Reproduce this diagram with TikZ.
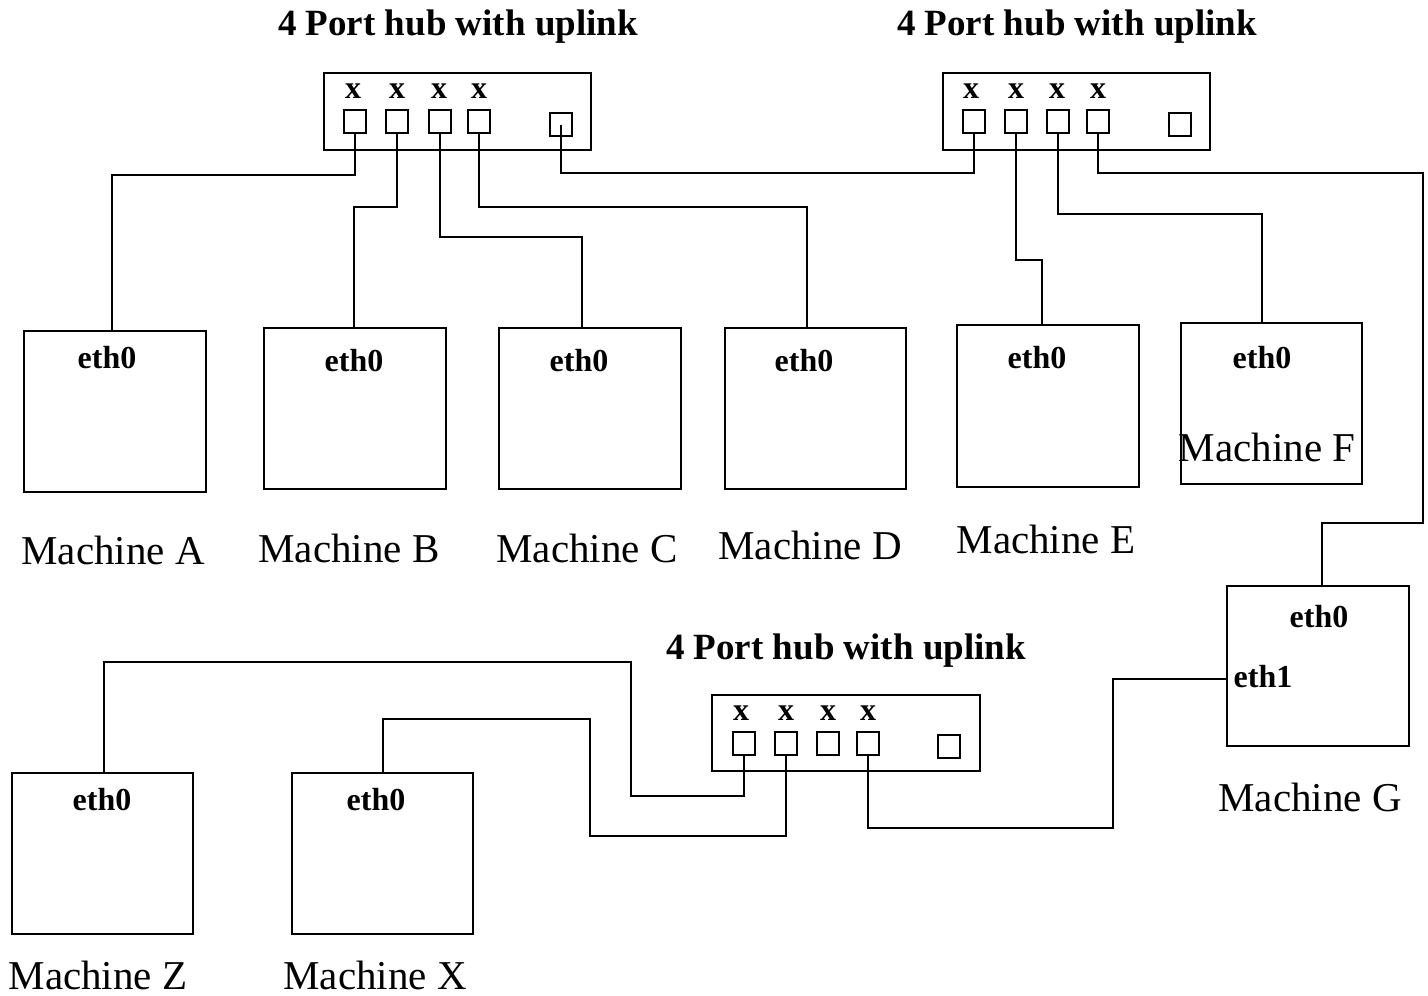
\documentclass[tikz,border=0pt]{standalone}
\usepackage{fontspec}
\setmainfont{Liberation Serif}
\newcommand\hubtitlefont{\fontsize{37}{42}\selectfont\bfseries}
\newcommand\machlabelfont{\fontsize{41}{45}\selectfont}
\newcommand\ethfont{\fontsize{32}{36}\selectfont\bfseries}
\newcommand\xfont{\fontsize{32}{36}\selectfont\bfseries}
\tikzset{
  box/.style={draw, line width=2pt, inner sep=0pt, outer sep=0pt},
  machine/.style={box, minimum width=182pt, minimum height=161pt},
  hub/.style={box, minimum width=267pt, minimum height=77pt},
  port/.style={box, minimum width=22pt, minimum height=23pt},
  wire/.style={line width=2pt},
  hubtitle/.style={font=\hubtitlefont, inner sep=0pt},
  machlabel/.style={font=\machlabelfont, inner sep=0pt},
  ethlabel/.style={font=\ethfont, inner sep=0pt},
  xlabel/.style={font=\xfont, inner sep=0pt},
}
\begin{document}
\begin{tikzpicture}[x=1pt,y=-1pt]
\useasboundingbox (0,0) rectangle (1428,996);
% hubs
\node[hub] (h1) at (457.5,111.5) {};
\node[hub] (h2) at (1076.5,111.5) {};
\node[hub, minimum width=268pt, minimum height=76pt] (h3) at (846,733) {};
\node[hubtitle] (t1) at (458,27) {4 Port hub with uplink};
\node[hubtitle] (t2) at (1077,27) {4 Port hub with uplink};
\node[hubtitle] (t3) at (846,651) {4 Port hub with uplink};
% ports hub 1
\node[port] (h1p1) at (355,121.5) {};
\node[port] (h1p2) at (397,121.5) {};
\node[port] (h1p3) at (439.5,121.5) {};
\node[port] (h1p4) at (479,121.5) {};
\node[port] (h1up) at (561,124.5) {};
\node[xlabel] (h1x1) at (353,91) {x};
\node[xlabel] (h1x2) at (397,91) {x};
\node[xlabel] (h1x3) at (439,91) {x};
\node[xlabel] (h1x4) at (479,91) {x};
% ports hub 2
\node[port] (h2p1) at (973.5,121.5) {};
\node[port] (h2p2) at (1015.5,121.5) {};
\node[port] (h2p3) at (1057.5,121.5) {};
\node[port] (h2p4) at (1098,121.5) {};
\node[port] (h2up) at (1180,124) {};
\node[xlabel] (h2x1) at (971,91) {x};
\node[xlabel] (h2x2) at (1016,91) {x};
\node[xlabel] (h2x3) at (1057,91) {x};
\node[xlabel] (h2x4) at (1098,91) {x};
% ports hub 3
\node[port] (h3p1) at (744,743) {};
\node[port] (h3p2) at (786,743) {};
\node[port] (h3p3) at (828,743) {};
\node[port] (h3p4) at (868,743) {};
\node[port] (h3up) at (949,746) {};
\node[xlabel] (h3x1) at (741,713) {x};
\node[xlabel] (h3x2) at (786,713) {x};
\node[xlabel] (h3x3) at (828,713) {x};
\node[xlabel] (h3x4) at (868,713) {x};
% machines
\node[machine] (A) at (115,411.5) {};
\node[machine] (B) at (355,408.5) {};
\node[machine] (C) at (590,408.5) {};
\node[machine, minimum width=181pt] (D) at (815.5,408.5) {};
\node[machine, minimum height=162pt] (E) at (1048,406) {};
\node[machine, minimum width=181pt] (F) at (1271.5,403.5) {};
\node[machine, minimum height=160pt] (G) at (1318,666) {};
\node[machine, minimum width=181pt] (Z) at (102.5,853.5) {};
\node[machine, minimum width=181pt] (X) at (382.5,853.5) {};
% eth labels
\node[ethlabel] (Ae) at (107,358) {eth0};
\node[ethlabel] (Be) at (354,361) {eth0};
\node[ethlabel] (Ce) at (579,361) {eth0};
\node[ethlabel] (De) at (804,361) {eth0};
\node[ethlabel] (Ee) at (1037,358) {eth0};
\node[ethlabel] (Fe) at (1262,358) {eth0};
\node[ethlabel] (Ge0) at (1319,617) {eth0};
\node[ethlabel] (Ge1) at (1263,677) {eth1};
\node[ethlabel] (Ze) at (102,800) {eth0};
\node[ethlabel] (Xe) at (376,800) {eth0};
% machine labels
\node[machlabel] (Al) at (113,550) {Machine A};
\node[machlabel] (Bl) at (349,548) {Machine B};
\node[machlabel] (Cl) at (587,548) {Machine C};
\node[machlabel] (Dl) at (810,545) {Machine D};
\node[machlabel] (El) at (1046,539) {Machine E};
\node[machlabel] (Fl) at (1267,447) {Machine F};
\node[machlabel] (Gl) at (1310,797) {Machine G};
\node[machlabel] (Zl) at (98,975) {Machine Z};
\node[machlabel] (Xl) at (375,975) {Machine X};
% routing corners
\coordinate (r1) at (1423,173);
\coordinate (r2) at (1423,523);
\coordinate (l1) at (631,796);
\coordinate (l2) at (631,662);
\coordinate (m1) at (590,836);
\coordinate (m2) at (590,719);
\coordinate (g1) at (1113,828);
% wires hub 1
\draw[wire] (h1p1.south) -- ++(0,42) -| ([xshift=-3pt]A.north);
\draw[wire] (h1p2.south) -- ++(0,74) -| ([xshift=-1pt]B.north);
\draw[wire] (h1p3.south) -- ++(0,104) -| ([xshift=-8pt]C.north);
\draw[wire] (h1p4.south) -- ++(0,74) -| ([xshift=-8.5pt]D.north);
\draw[wire] (h1up.center) -- ++(0,48.5) -| (h2p1.south);
% wires hub 2
\draw[wire] (h2p2.south) -- ++(0,127) -| ([xshift=-6pt]E.north);
\draw[wire] (h2p3.south) -- ++(0,81) -| ([xshift=-9.5pt]F.north);
\draw[wire] (h2p4.south) |- (r1) -- (r2) -| ([xshift=4pt]G.north);
% wires hub 3
\draw[wire] (h3p1.south) |- (l1) -- (l2) -| ([xshift=1.5pt]Z.north);
\draw[wire] (h3p2.south) |- (m1) -- (m2) -| (X.north);
\draw[wire] (h3p4.south) |- (g1) |- ([yshift=-13pt]G.west);
\end{tikzpicture}
\end{document}
